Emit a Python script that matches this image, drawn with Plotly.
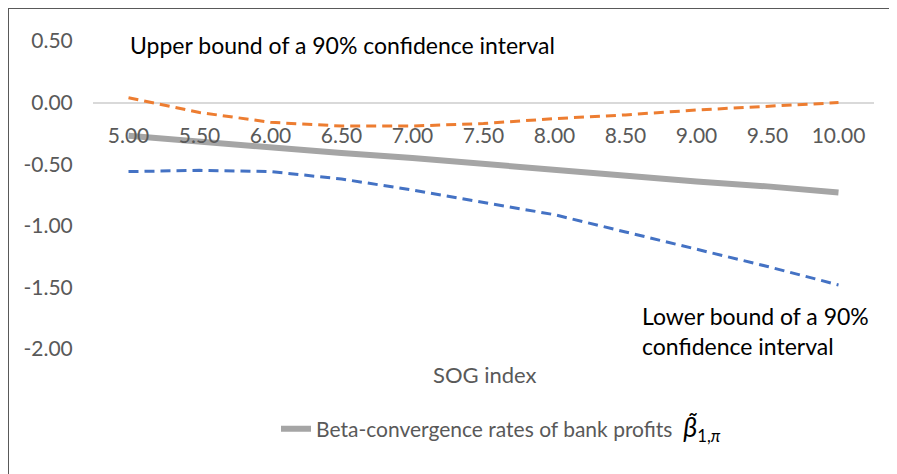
import plotly.graph_objects as go

# Data
sog_index = [5.0, 5.5, 6.0, 6.5, 7.0, 7.5, 8.0, 8.5, 9.0, 9.5, 10.0]
x_tick_labels = ["5.00", "5.50", "6.00", "6.50", "7.00", "7.50", "8.00", "8.50", "9.00", "9.50", "10.00"]
beta_rates = [-0.27, -0.32, -0.36, -0.41, -0.45, -0.50, -0.55, -0.59, -0.64, -0.68, -0.73]
upper_bound = [0.04, -0.08, -0.16, -0.19, -0.19, -0.17, -0.13, -0.10, -0.06, -0.03, 0.00]
lower_bound = [-0.56, -0.55, -0.56, -0.62, -0.71, -0.81, -0.91, -1.05, -1.19, -1.33, -1.48]
y_ticks = [0.5, 0.0, -0.5, -1.0, -1.5, -2.0]
y_tick_labels = ["0.50", "0.00", "-0.50", "-1.00", "-1.50", "-2.00"]

OFF = 8  # page body margin
W, H = 897 - OFF, 474 - OFF
L, R, T, B = 85, 23, 33, 125
pw, ph = W - L - R, H - T - B

FONT = "Lato"

fig = go.Figure()
fig.add_trace(go.Scatter(x=sog_index, y=upper_bound, mode="lines", showlegend=False,
                         line=dict(color="#ed7d31", width=3, dash="10px,6px")))
fig.add_trace(go.Scatter(x=sog_index, y=lower_bound, mode="lines", showlegend=False,
                         line=dict(color="#4472c4", width=3, dash="10px,6px")))
fig.add_trace(go.Scatter(
    x=sog_index, y=beta_rates, mode="lines",
    name=("Beta-convergence rates of bank profits  "
          "<span style='font-size:27px;color:#000'><i>β̃</i></span>"
          "<span style='font-size:24px;color:#000'><sub>1,<i>π</i></sub></span>"),
    line=dict(color="#a5a5a5", width=6)))

fig.update_layout(
    width=W, height=H,
    margin=dict(l=L, r=R, t=T, b=B, autoexpand=False),
    paper_bgcolor="white", plot_bgcolor="white",
    font=dict(family=FONT, color="#595959", size=21),
    xaxis=dict(range=[4.75, 10.25], tickvals=sog_index, ticktext=x_tick_labels,
               showgrid=False, zeroline=False, showline=False,
               anchor="free", position=0.8, side="bottom",
               ticks="outside", ticklen=14, tickcolor="rgba(0,0,0,0)",
               tickfont=dict(size=21, color="#595959")),
    yaxis=dict(range=[-2.0, 0.5], tickvals=y_ticks, ticktext=y_tick_labels,
               showgrid=False, zeroline=True, zerolinecolor="#d9d9d9", zerolinewidth=1.5,
               showline=False, ticks="outside", ticklen=15, tickcolor="rgba(0,0,0,0)",
               tickfont=dict(size=21, color="#595959")),
    legend=dict(orientation="h", x=(276 - OFF - L) / pw, xanchor="left",
                y=(H - B - (429 - OFF)) / ph, yanchor="middle",
                font=dict(size=21, color="#595959")),
)

def px_x(p):
    return (p - OFF - L) / pw

def px_y(p):
    return (H - B - (p - OFF)) / ph

fig.add_annotation(text="SOG index", xref="paper", yref="paper",
                   x=px_x(485), y=px_y(374), yanchor="middle", showarrow=False,
                   font=dict(size=22, color="#595959", family=FONT))
fig.add_annotation(text="Upper bound of a 90% confidence interval", xref="paper", yref="paper",
                   x=px_x(128), y=px_y(45), xanchor="left", yanchor="middle", showarrow=False,
                   font=dict(size=23, color="#000000", family=FONT))
fig.add_annotation(text="Lower bound of a 90%<br>confidence interval", xref="paper", yref="paper",
                   x=px_x(640), y=px_y(331), xanchor="left", yanchor="middle", align="left",
                   showarrow=False, font=dict(size=23, color="#000000", family=FONT))

# frame
fig.add_shape(type="line", xref="paper", yref="paper",
              x0=px_x(OFF), y0=px_y(OFF), x1=px_x(900), y1=px_y(OFF),
              line=dict(color="#595959", width=2))
fig.add_shape(type="line", xref="paper", yref="paper",
              x0=px_x(OFF), y0=px_y(OFF), x1=px_x(OFF), y1=px_y(480),
              line=dict(color="#595959", width=2))

fig.write_html("out.html")
